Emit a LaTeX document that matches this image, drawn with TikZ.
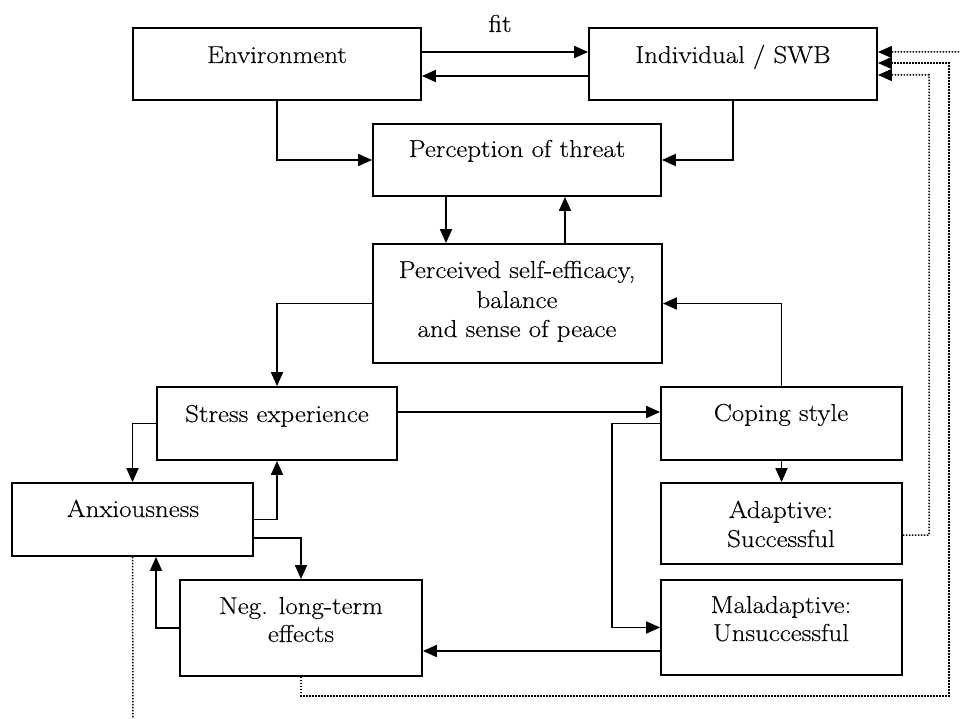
\documentclass[tikz,border=0pt]{standalone}
\usepackage{fontspec}
\setmainfont{Latin Modern Roman}[FakeStretch=1.1,FakeBold=0.3]
\usetikzlibrary{arrows.meta}
\begin{document}
\begin{tikzpicture}[x=1bp,y=-1bp,
  box/.style={draw,line width=1.8bp,inner sep=0pt},
  lbl/.style={anchor=base,inner sep=0pt,font=\fontsize{24.5bp}{29bp}\selectfont},
  link/.style={line width=1.8bp,-{Triangle[length=14bp,width=12bp]}},
  feedback/.style={line width=1.5bp,dash pattern=on 1.5bp off 1.5bp,-{Triangle[length=14bp,width=12bp]}},
  trail/.style={line width=1.5bp,dash pattern=on 1.5bp off 1.5bp}]
\useasboundingbox (0,0) rectangle (960,719);

% boxes
\node[box,minimum width=288bp,minimum height=72bp] (env) at (277,64) {};
\node[box,minimum width=288bp,minimum height=72bp] (ind) at (733,64) {};
\node[box,minimum width=288bp,minimum height=72bp] (per) at (517,160) {};
\node[box,minimum width=289bp,minimum height=119bp] (eff) at (517.5,303.5) {};
\node[box,minimum width=240bp,minimum height=73bp] (str) at (277,423.5) {};
\node[box,minimum width=241bp,minimum height=73bp] (cop) at (781.5,423.5) {};
\node[box,minimum width=241bp,minimum height=81bp] (adp) at (781.5,523.5) {};
\node[box,minimum width=241bp,minimum height=95bp] (mal) at (781.5,627.5) {};
\node[box,minimum width=241bp,minimum height=73bp] (anx) at (132.5,519.5) {};
\node[box,minimum width=242bp,minimum height=96bp] (neg) at (301,628) {};

% texts
\node[lbl] (fitT) at (500,32) {fit};
\node[lbl] (envT) at (277,63) {Environment};
\node[lbl] (indT) at (733,63) {Individual / SWB};
\node[lbl] (perT) at (517,157) {Perception of threat};
\node[lbl] (effA) at (517,278) {Perceived self-efficacy,};
\node[lbl] (effB) at (517,308) {balance};
\node[lbl] (effC) at (517,337) {and sense of peace};
\node[lbl] (strT) at (277,422) {Stress experience};
\node[lbl] (copT) at (781,421) {Coping style};
\node[lbl] (adpA) at (781,518) {Adaptive:};
\node[lbl] (adpB) at (781,547) {Successful};
\node[lbl] (malA) at (781,613) {Maladaptive:};
\node[lbl] (malB) at (781,641) {Unsuccessful};
\node[lbl] (anxT) at (133,517) {Anxiousness};
\node[lbl] (negA) at (301,614) {Neg. long-term};
\node[lbl] (negB) at (301,642) {effects};

% free ends of the open dotted lines
\coordinate (outerEnd) at (962,52);
\coordinate (anxEnd) at (133,721);

% solid connectors
\draw[link] ([yshift=12bp]env.east) -- ([yshift=12bp]ind.west);
\draw[link] ([yshift=-12bp]ind.west) -- ([yshift=-12bp]env.east);
\draw[link] (env.south) |- (per.west);
\draw[link] (ind.south) |- (per.east);
\draw[link] ([xshift=-71bp]per.south) -- ([xshift=-71bp]per.south |- eff.north);
\draw[link] ([xshift=47.5bp]eff.north) -- ([xshift=47.5bp]eff.north |- per.south);
\draw[link] (eff.west) -| (str.north);
\draw[link] (cop.north) |- (eff.east);
\draw[link] ([yshift=11.5bp]str.east) -- ([yshift=11.5bp]cop.west);
\draw[link] (cop.south) -- (adp.north);
\draw[link] (cop.west) -- ++(-48,0) |- (mal.west);
\draw[link] ([yshift=-23.5bp]mal.west) -- ([yshift=-23.5bp]mal.west -| neg.east);
\draw[link] (str.west) -| (anx.north);
\draw[link] (anx.east) -| (str.south);
\draw[link] ([yshift=-18.5bp]anx.east) -| (neg.north);
\draw[link] (neg.west) -| ([xshift=23.5bp]anx.south);

% dotted feedback loops
\draw[feedback] (neg.south) -- ++(0,19) -| (949,63) -- ([yshift=1bp]ind.east);
\draw[feedback] ([yshift=-11.5bp]adp.east) -| (929,75) -- ([yshift=-11bp]ind.east);
\draw[feedback] (outerEnd) -- ([yshift=12bp]ind.east);
\draw[trail] (anx.south) -- (anxEnd);
\end{tikzpicture}
\end{document}
